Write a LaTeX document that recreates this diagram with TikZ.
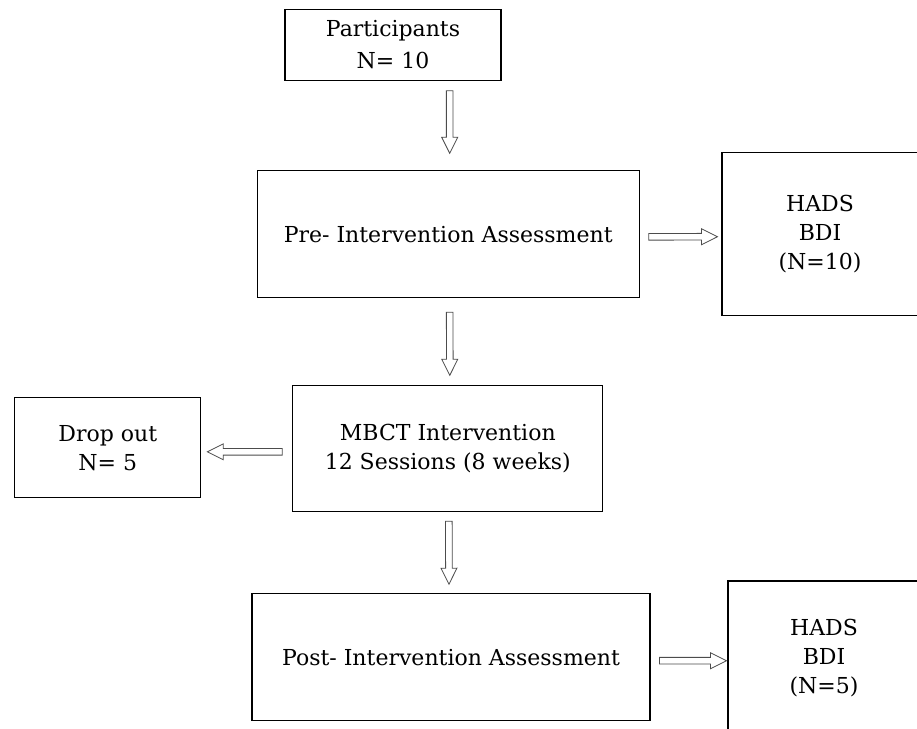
\documentclass[tikz,border=0pt]{standalone}
\usepackage{fontspec}
\setmainfont{DejaVu Serif}
\usetikzlibrary{calc}

\tikzset{
  box/.style={draw=black, line width=0.8pt, align=center, inner sep=0pt},
  boxsize/.style 2 args={minimum width=#1*0.75pt, minimum height=#2*0.75pt},
  boxtxt/.style={font=\fontsize{16.5}{22}\selectfont},
  blockarrow/.style={draw=black!70, line width=0.6pt, fill=white,
    to path={let \p1=($(\tikztotarget)!12pt!(\tikztostart)$) in
      ($(\tikztostart)!2.5pt!90:(\tikztotarget)$)
      -- ($(\p1)!2.5pt!90:(\tikztotarget)$)
      -- ($(\p1)!6pt!90:(\tikztotarget)$)
      -- (\tikztotarget)
      -- ($(\p1)!6pt!-90:(\tikztotarget)$)
      -- ($(\p1)!2.5pt!-90:(\tikztotarget)$)
      -- ($(\tikztostart)!2.5pt!-90:(\tikztotarget)$)
      -- cycle}},
}

\begin{document}
\begin{tikzpicture}[x=0.75pt, y=-0.75pt]
\useasboundingbox (0,0) rectangle (917,728);

% boxes
\node[box, boxsize={216}{71}, font=\fontsize{16.5}{24}\selectfont] (part) at (393,44.7) {Participants\\N= 10};
\node[box, boxsize={382}{127}, boxtxt] (pre) at (448.2,234.3) {Pre- Intervention Assessment};
\node[box, boxsize={196}{163}, boxtxt] (hadsA) at (820,234.2) {HADS\\ BDI\\(N=10)};
\node[box, boxsize={310}{126}, boxtxt] (mbct) at (447.8,448.8) {MBCT Intervention\\12 Sessions (8 weeks)};
\node[box, boxsize={186}{100}, boxtxt] (drop) at (107.8,447.8) {Drop out\\N= 5};
\node[box, boxsize={398}{127}, boxtxt] (post) at (451,657.2) {Post- Intervention Assessment};
\node[box, boxsize={192}{154}, boxtxt] (hadsB) at (824,658) {HADS\\ BDI\\(N=5)};

% arrows
\draw[blockarrow] ($(part.south -| pre.north)+(1.5,10)$) to ($(pre.north)+(1.5,-17)$);
\draw[blockarrow] ($(pre.east)+(9,2.5)$) to ($(hadsA.west)+(-4,2.5)$);
\draw[blockarrow] ($(pre.south)+(1.5,14)$) to ($(mbct.north)+(2,-10)$);
\draw[blockarrow] ($(mbct.west)+(-10,3)$) to ($(drop.east)+(6,4)$);
\draw[blockarrow] ($(mbct.south)+(1,9)$) to ($(post.north)+(-2,-9)$);
\draw[blockarrow] ($(post.east)+(9,3.5)$) to ($(hadsB.west)+(-1,2.7)$);
\end{tikzpicture}
\end{document}
